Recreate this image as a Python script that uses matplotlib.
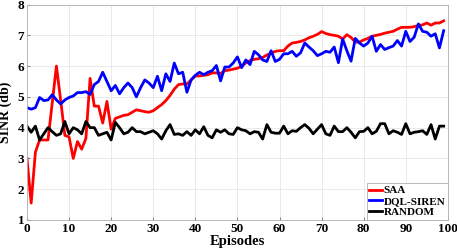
import numpy as np
import matplotlib
matplotlib.use("Agg")
import matplotlib.pyplot as plt

plt.rcParams['font.family'] = ['Liberation Serif', 'DejaVu Serif']
plt.rcParams['font.weight'] = 'bold'

# Episodes 0..99
episodes = np.arange(100)

saa = [3.0, 1.55, 3.2, 3.6, 3.6, 3.6, 4.8, 6.0, 4.9, 3.75,
       3.7, 3.0, 3.55, 3.3, 3.65, 5.6, 4.7, 4.7, 4.15, 4.85,
       3.95, 4.3, 4.35, 4.4, 4.42, 4.5, 4.58, 4.55, 4.52, 4.5,
       4.55, 4.65, 4.75, 4.88, 5.05, 5.25, 5.4, 5.42, 5.42, 5.55,
       5.68, 5.68, 5.7, 5.72, 5.78, 5.78, 5.76, 5.85, 5.87, 5.9,
       5.93, 6.0, 6.1, 6.18, 6.22, 6.24, 6.28, 6.36, 6.42, 6.48,
       6.5, 6.5, 6.65, 6.75, 6.77, 6.8, 6.85, 6.92, 6.97, 7.03,
       7.12, 7.06, 7.02, 7.0, 6.97, 6.88, 7.02, 6.93, 6.78, 6.78,
       6.85, 6.9, 6.97, 7.0, 7.03, 7.07, 7.1, 7.13, 7.2, 7.26,
       7.26, 7.26, 7.28, 7.32, 7.34, 7.4, 7.33, 7.4, 7.4, 7.47]

dql_siren = [4.65, 4.6, 4.65, 4.98, 4.88, 4.9, 5.07, 4.9, 4.77, 4.9,
             4.98, 5.03, 5.14, 5.14, 5.17, 5.08, 5.4, 5.5, 5.8, 5.5,
             5.2, 5.37, 5.1, 5.3, 5.45, 5.3, 5.0, 5.3, 5.55, 5.45,
             5.3, 5.67, 5.2, 5.75, 5.5, 6.1, 5.75, 5.8, 5.15, 5.55,
             5.7, 5.8, 5.72, 5.8, 5.85, 6.02, 5.52, 5.97, 5.97, 6.1,
             6.3, 5.95, 6.2, 6.05, 6.48, 6.37, 6.2, 6.15, 6.5, 6.15,
             6.22, 6.4, 6.4, 6.48, 6.32, 6.43, 6.75, 6.62, 6.5, 6.34,
             6.4, 6.48, 6.45, 6.62, 6.11, 6.88, 6.5, 6.16, 6.9, 6.75,
             6.65, 6.75, 6.97, 6.48, 6.7, 6.54, 6.6, 6.65, 6.83, 6.65,
             7.13, 6.8, 6.94, 7.37, 7.13, 7.1, 6.97, 7.05, 6.59, 7.15]

random_sinr = [4.05, 3.85, 4.05, 3.6, 3.8, 4.0, 3.87, 3.75, 3.8, 4.2,
               3.8, 4.0, 3.93, 3.8, 4.2, 4.0, 4.0, 3.75, 3.8, 3.85,
               3.6, 4.17, 4.0, 3.8, 3.85, 4.0, 3.87, 3.87, 3.8, 3.85,
               3.9, 3.8, 3.63, 3.9, 4.1, 3.78, 3.8, 3.75, 3.87, 3.75,
               3.93, 3.8, 4.03, 3.75, 3.67, 3.93, 3.85, 3.93, 3.8, 3.78,
               4.0, 3.93, 3.9, 3.8, 3.87, 3.85, 3.63, 4.1, 3.85, 3.82,
               3.82, 4.05, 3.8, 3.9, 3.88, 4.0, 4.1, 3.98, 3.8, 3.95,
               4.1, 3.8, 3.75, 4.05, 3.87, 3.87, 4.0, 3.85, 3.67, 3.87,
               3.88, 4.0, 3.8, 3.88, 4.13, 4.13, 3.8, 3.9, 3.85, 3.78,
               4.13, 3.8, 3.85, 3.87, 3.9, 3.78, 4.1, 3.63, 4.05, 4.05]

fig = plt.figure(figsize=(4.57, 2.52), dpi=100)
ax = fig.add_axes([0.059, 0.127, 0.921, 0.855])

ax.plot(episodes, saa, color='#ff0000', lw=2, label='SAA')
ax.plot(episodes, dql_siren, color='#0000ff', lw=2, label='DQL-SIREN')
ax.plot(episodes, random_sinr, color='black', lw=2, label='RANDOM')

ax.set_xlim(0, 100)
ax.set_ylim(1, 8)
ax.set_xticks(np.arange(0, 101, 10))
ax.set_yticks(np.arange(1, 9, 1))
ax.grid(True, color='#e6e6e6', lw=0.6)
ax.set_axisbelow(True)
ax.tick_params(direction='in', length=2, labelsize=9.5, pad=2, color='#888888')
for lab in ax.get_xticklabels() + ax.get_yticklabels():
    lab.set_fontweight('bold')
for sp in ax.spines.values():
    sp.set_color('#b0b0b0')
    sp.set_linewidth(0.6)

ax.set_xlabel('Episodes', fontsize=10.5, fontweight='bold', labelpad=0)
ax.set_ylabel('SINR (db)', fontsize=10, fontweight='bold')
ax.yaxis.set_label_coords(-0.035, 0.5)

leg = ax.legend(loc='lower right', prop={'weight': 'bold', 'size': 8},
                handlelength=1.1, handletextpad=0.15, borderpad=0.25,
                labelspacing=0.1, fancybox=False, framealpha=1,
                borderaxespad=0.0)
leg.get_frame().set_edgecolor('#b0b0b0')
leg.get_frame().set_linewidth(0.6)

fig.savefig('out.png', dpi=100)
